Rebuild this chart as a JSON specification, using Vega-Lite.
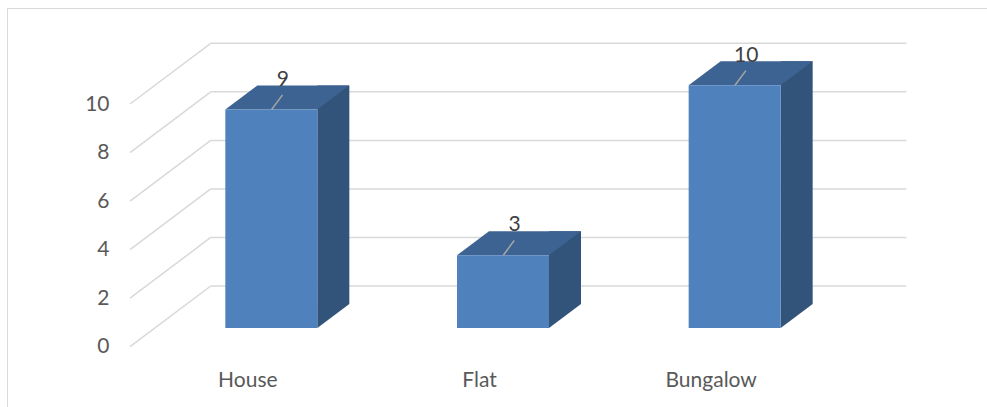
{
  "$schema": "https://vega.github.io/schema/vega-lite/v6.json",
  "width": 980,
  "height": 399,
  "padding": {"left": 7, "top": 8, "right": 0, "bottom": 0},
  "autosize": {"type": "none"},
  "background": "white",
  "view": {"stroke": "#D9D9D9", "strokeWidth": 1, "strokeDash": [980, 1379, 399]},
  "config": {
    "font": "Lato",
    "axis": {
      "labelFont": "Lato",
      "labelFontSize": 21,
      "labelColor": "#595959",
      "grid": false,
      "domain": false,
      "ticks": false,
      "tickSize": 0,
      "title": null
    }
  },
  "datasets": {
    "homes": [
      {"type": "House", "count": 9},
      {"type": "Flat", "count": 3},
      {"type": "Bungalow", "count": 10}
    ],
    "levels": [
      {"count": 0}, {"count": 2}, {"count": 4}, {"count": 6}, {"count": 8}, {"count": 10}
    ]
  },
  "data": {"name": "homes"},
  "encoding": {
    "x": {
      "field": "type",
      "type": "nominal",
      "sort": null,
      "scale": {"type": "band", "domain": ["House", "Flat", "Bungalow"], "range": [125, 820], "paddingInner": 0, "paddingOuter": 0},
      "axis": {"orient": "bottom", "offset": -47, "labelPadding": 26, "labelBaseline": "alphabetic", "labelAngle": 0}
    },
    "y": {
      "field": "count",
      "type": "quantitative",
      "scale": {"domain": [0, 10], "range": [338.7, 96], "nice": false, "zero": false},
      "axis": {"orient": "left", "offset": -123, "labelPadding": 21, "values": [0, 2, 4, 6, 8, 10]}
    }
  },
  "layer": [
    {
      "data": {"name": "levels"},
      "mark": {"type": "rule", "color": "#D9D9D9", "strokeWidth": 1.5, "xOffset": -117.8, "x2Offset": -37.1, "y2Offset": -60.7},
      "encoding": {
        "x": {"datum": "House", "type": "nominal"},
        "x2": {"datum": "House"},
        "y2": {"field": "count"}
      }
    },
    {
      "data": {"name": "levels"},
      "mark": {"type": "rule", "color": "#D9D9D9", "strokeWidth": 1.5, "xOffset": -37.1, "x2Offset": 195.2, "yOffset": -60.7},
      "encoding": {
        "x": {"datum": "House", "type": "nominal"},
        "x2": {"datum": "Bungalow"}
      }
    },
    {
      "mark": {"type": "bar", "color": "#32537A", "width": 32, "xOffset": 85.5, "yOffset": -42.7, "y2Offset": -42.7},
      "encoding": {"y2": {"datum": 0}}
    },
    {
      "mark": {"type": "point", "shape": "M46,0L78,-24L46,-24Z", "size": 4, "filled": true, "color": "#32537A", "opacity": 1, "strokeWidth": 0, "xOffset": 23.5, "yOffset": -18.7},
      "encoding": {"y": {"datum": 0, "type": "quantitative"}}
    },
    {
      "mark": {"type": "point", "shape": "M-46,0L46,0L78,-24L-14,-24Z", "size": 4, "filled": true, "color": "#3C6391", "opacity": 1, "strokeWidth": 0, "xOffset": 23.5, "yOffset": -18.7}
    },
    {
      "mark": {"type": "bar", "color": "#4F81BD", "width": 92, "xOffset": 23.5, "yOffset": -18.7, "y2Offset": -18.7},
      "encoding": {"y2": {"datum": 0}}
    },
    {
      "mark": {"type": "rule", "color": "#A6A6A6", "strokeWidth": 1.5, "xOffset": 23.8, "x2Offset": 34.7, "yOffset": -18.7, "y2Offset": -33.4},
      "encoding": {"x2": {"field": "type"}, "y2": {"field": "count"}}
    },
    {
      "mark": {"type": "text", "font": "Lato", "fontSize": 21, "color": "#404040", "align": "center", "baseline": "alphabetic", "xOffset": 35, "yOffset": -42.5},
      "encoding": {"text": {"field": "count", "type": "quantitative"}}
    }
  ]
}
